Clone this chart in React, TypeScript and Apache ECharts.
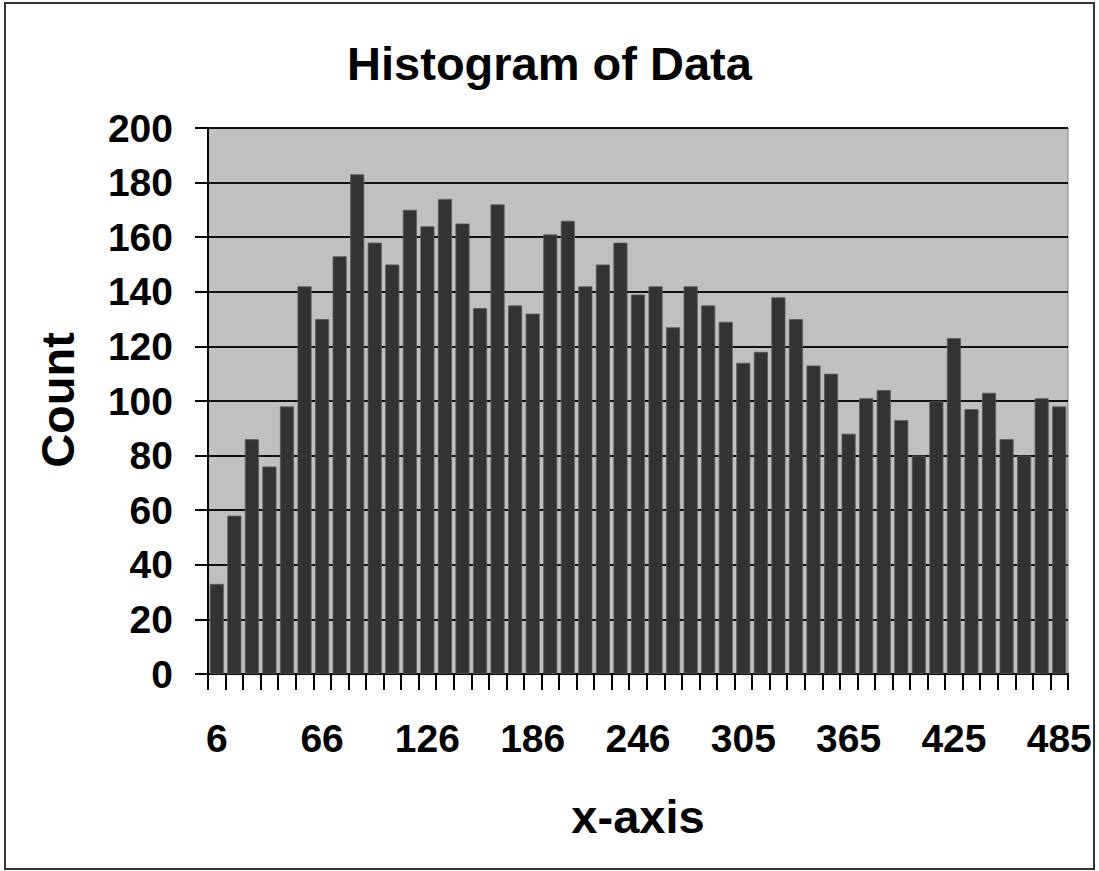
import React, { useEffect, useRef } from "react";
import * as echarts from "echarts";

const binLabels: string[] = [
  "6", "16", "26", "36", "46", "56", "66", "76", "86", "96",
  "106", "116", "126", "136", "146", "156", "166", "176", "186", "196",
  "206", "216", "226", "236", "246", "255", "265", "275", "285", "295",
  "305", "315", "325", "335", "345", "355", "365", "375", "385", "395",
  "405", "415", "425", "435", "445", "455", "465", "475", "485",
];

const counts: number[] = [
  33, 58, 86, 76, 98, 142, 130, 153, 183, 158,
  150, 170, 164, 174, 165, 134, 172, 135, 132, 161,
  166, 142, 150, 158, 139, 142, 127, 142, 135, 129,
  114, 118, 138, 130, 113, 110, 88, 101, 104, 93,
  80, 100, 123, 97, 103, 86, 80, 101, 98,
];

const chartTitle = "Histogram of Data";
const xTitle = "x-axis";
const yTitle = "Count";

const FONT = '"Liberation Sans", Arial, Helvetica, sans-serif';

export default function App() {
  const ref = useRef<HTMLDivElement>(null);
  useEffect(() => {
    document.body.style.margin = "0";
    if (!ref.current) return;
    const chart = echarts.init(ref.current, null, { renderer: "svg" });
    chart.setOption({
      animation: false,
      backgroundColor: "#ffffff",
      title: {
        text: chartTitle,
        left: "center",
        top: 35,
        textStyle: { fontFamily: FONT, fontWeight: "bold", fontSize: 47, color: "#000" },
      },
      grid: {
        left: 208,
        right: 31,
        top: 128,
        bottom: 197,
        show: true,
        backgroundColor: "#c0c0c0",
        borderColor: "#808080",
        borderWidth: 1,
      },
      xAxis: {
        type: "category",
        data: binLabels,
        boundaryGap: true,
        axisLine: { show: true, lineStyle: { color: "#000", width: 2 } },
        axisTick: { show: true, interval: 0, length: 16, lineStyle: { color: "#000", width: 2 } },
        axisLabel: {
          interval: 5,
          margin: 45,
          fontFamily: FONT,
          fontWeight: "bold",
          fontSize: 39,
          color: "#000",
        },
        splitLine: { show: false },
      },
      yAxis: {
        type: "value",
        min: 0,
        max: 200,
        interval: 20,
        axisLine: { show: true, lineStyle: { color: "#000", width: 2 } },
        axisTick: { show: true, length: 13, lineStyle: { color: "#000", width: 2 } },
        axisLabel: {
          margin: 35,
          fontFamily: FONT,
          fontWeight: "bold",
          fontSize: 39,
          color: "#000",
        },
        splitLine: { show: true, lineStyle: { color: "#111", width: 2 } },
      },
      series: [
        {
          type: "bar",
          data: counts,
          barCategoryGap: "20%",
          itemStyle: { color: "#333333", borderColor: "#5a5a5a", borderWidth: 0.8 },
        },
      ],
      graphic: [
        {
          type: "rect",
          shape: { x: 5, y: 3, width: 1089, height: 866 },
          style: { fill: "none", stroke: "#333", lineWidth: 2 },
          silent: true,
        },
        {
          type: "text",
          x: 57,
          y: 400,
          rotation: Math.PI / 2,
          style: {
            text: yTitle,
            fontFamily: FONT,
            fontWeight: "bold",
            fontSize: 47,
            fill: "#000",
            textAlign: "center",
            textVerticalAlign: "middle",
          },
        },
        {
          type: "text",
          x: 638,
          y: 816,
          style: {
            text: xTitle,
            fontFamily: FONT,
            fontWeight: "bold",
            fontSize: 47,
            fill: "#000",
            textAlign: "center",
            textVerticalAlign: "middle",
          },
        },
      ],
    });
    return () => chart.dispose();
  }, []);
  return (
    <div
      ref={ref}
      style={{ position: "absolute", left: 0, top: 0, width: 1099, height: 871 }}
    />
  );
}
